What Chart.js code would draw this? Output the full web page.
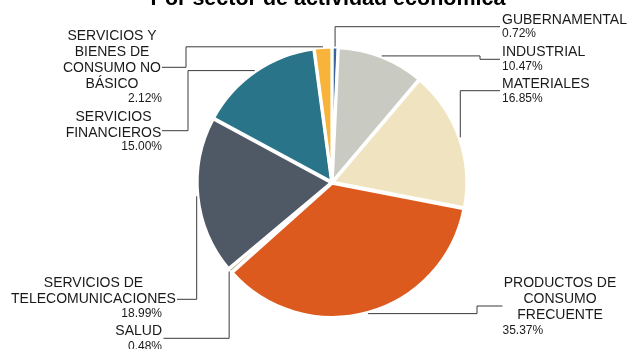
<!DOCTYPE html>
<html>
<head>
<meta charset="utf-8">
<script src="https://cdn.jsdelivr.net/npm/chart.js@4/dist/chart.umd.min.js"></script>
<style>
    html, body { margin: 0; padding: 0; background: #fff; }
    #wrap { width: 630px; height: 349px; position: relative; }
</style>
</head>
<body>
<div id="wrap"><canvas id="sectorChart"></canvas></div>
<script>
// Data
const title = 'Por sector de actividad económica';
const categories = [
    'GUBERNAMENTAL',
    'INDUSTRIAL',
    'MATERIALES',
    'PRODUCTOS DE CONSUMO FRECUENTE',
    'SALUD',
    'SERVICIOS DE TELECOMUNICACIONES',
    'SERVICIOS FINANCIEROS',
    'SERVICIOS Y BIENES DE CONSUMO NO BÁSICO'
];
const shares = [0.72, 10.47, 16.85, 35.37, 0.48, 18.99, 15.00, 2.12];
const colors = ['#3a6597', '#c9cac1', '#f0e4c0', '#dd5a1f', '#ad9f6c', '#4f5966', '#2a7489', '#f7b33a'];

// Label placement (words per line, text anchor, leader route)
const labelLayout = [
    { words: [1], side: 'right', x: 502, y: 20, pctY: 33.3, route: 'v', ly: 26.7, lx: 500 },
    { words: [1], side: 'right', x: 502, y: 52.3, pctY: 66.7, route: 'h', ex: 480, ly: 59.3, lx: 500 },
    { words: [1], side: 'right', x: 502, y: 84.3, pctY: 99, route: 'v', ly: 90.7, lx: 500 },
    { words: [2, 1, 1], side: 'center', x: 560, y: 283.3, pctX: 502.5, pctAlign: 'left', pctY: 330.7, route: 'h', ex: 477, ly: 306, lx: 502.5 },
    { words: [1], side: 'rightAlign', x: 162, y: 331, pctX: 162, pctAlign: 'right', pctY: 346.5, route: 'v', ly: 338.3, lx: 163.5 },
    { words: [2, 1], side: 'center', x: 93.5, y: 283.3, pctX: 162, pctAlign: 'right', pctY: 313.3, route: 'v', ly: 299.3, lx: 177 },
    { words: [1, 1], side: 'center', x: 113.5, y: 116.7, pctX: 162, pctAlign: 'right', pctY: 146.7, route: 'h', ex: 188, ly: 130.7, lx: 162 },
    { words: [2, 2, 2, 1], side: 'center', x: 112, y: 35.7, pctX: 162, pctAlign: 'right', pctY: 99, route: 'h', ex: 186, ly: 67.3, lx: 162 }
];

function splitLines(name, counts) {
    const parts = name.split(' ');
    const lines = [];
    let i = 0;
    counts.forEach(n => {
        lines.push(parts.slice(i, i + n).join(' '));
        i += n;
    });
    return lines;
}

const calloutPlugin = {
    id: 'callouts',
    afterDraw(chart) {
        const ctx = chart.ctx;
        const meta = chart.getDatasetMeta(0);

        ctx.save();
        // title, mostly cut off at the top
        ctx.fillStyle = '#000';
        ctx.font = 'bold 21.5px "Liberation Sans", Arial, sans-serif';
        ctx.textAlign = 'center';
        ctx.textBaseline = 'alphabetic';
        ctx.fillText(title, 328, 4.5);

        meta.data.forEach((arc, i) => {
            const p = arc.getProps(['x', 'y', 'startAngle', 'endAngle', 'outerRadius'], true);
            const mid = (p.startAngle + p.endAngle) / 2;
            const r = p.outerRadius + (arc.options.offset || 0) - 1;
            const ax = p.x + Math.cos(mid) * r;
            const ay = p.y + Math.sin(mid) * r;
            const L = labelLayout[i];

            // leader line
            ctx.strokeStyle = '#3a3a3a';
            ctx.lineWidth = 1;
            ctx.beginPath();
            ctx.moveTo(ax, ay);
            if (L.route === 'h') {
                ctx.lineTo(L.ex, ay);
                ctx.lineTo(L.ex, L.ly);
            } else {
                ctx.lineTo(ax, L.ly);
            }
            ctx.lineTo(L.lx, L.ly);
            ctx.stroke();

            // label text
            ctx.fillStyle = '#1a1a1a';
            ctx.textBaseline = 'middle';
            ctx.font = '14px "Liberation Sans", Arial, sans-serif';
            const lines = splitLines(categories[i], L.words);
            if (L.side === 'right') ctx.textAlign = 'left';
            else if (L.side === 'rightAlign') ctx.textAlign = 'right';
            else ctx.textAlign = 'center';
            lines.forEach((t, k) => {
                ctx.fillText(t, L.x, L.y + k * 16);
            });

            ctx.font = '12px "Liberation Sans", Arial, sans-serif';
            ctx.textAlign = L.pctAlign || 'left';
            ctx.fillText(shares[i].toFixed(2) + '%', L.pctX || L.x, L.pctY);
        });
        ctx.restore();
    }
};

const ctx = document.getElementById('sectorChart').getContext('2d');
const sectorChart = new Chart(ctx, {
    type: 'pie',
    data: {
        labels: categories,
        datasets: [{
            data: shares,
            backgroundColor: colors,
            borderColor: '#ffffff',
            borderWidth: 3,
            offset: 3
        }]
    },
    options: {
        responsive: true,
        maintainAspectRatio: false,
        animation: false,
        layout: {
            padding: { left: 195, right: 161, top: 45.5, bottom: 29.5 }
        },
        plugins: {
            legend: { display: false },
            tooltip: { enabled: false },
            title: { display: false }
        }
    },
    plugins: [calloutPlugin]
});
</script>
</body>
</html>
